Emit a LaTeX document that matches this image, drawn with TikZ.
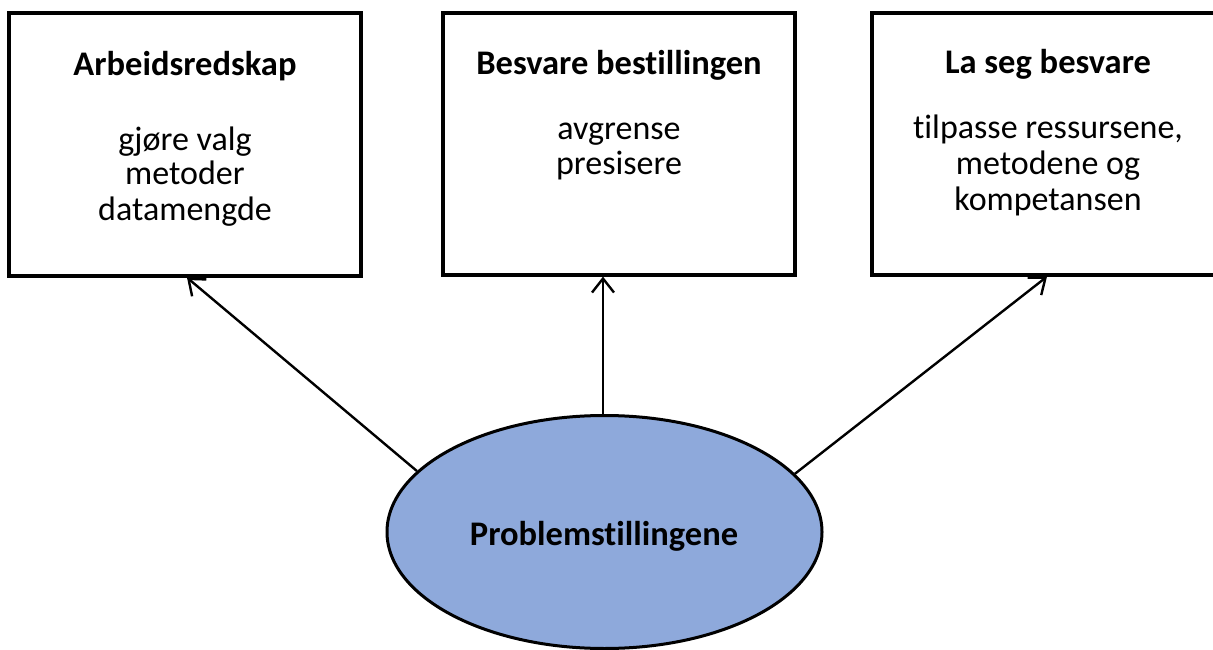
\documentclass[tikz,border=0pt]{standalone}
\usepackage{fontspec}
\setmainfont{Carlito}[Ligatures=NoCommon]
\usetikzlibrary{shapes.geometric,arrows.meta}
\definecolor{ellfill}{RGB}{142,169,219}
\tikzset{
  panel/.style={draw=black, line width=3.2pt, minimum width=352pt, minimum height=263pt, inner sep=0pt},
  hub/.style={ellipse, draw=black, line width=3pt, fill=ellfill, minimum width=435pt, minimum height=233pt, inner sep=0pt},
  ttl/.style={anchor=base, inner sep=0pt, font=\fontsize{34.5}{36}\selectfont\bfseries},
  body/.style={anchor=base, inner sep=0pt, font=\fontsize{34}{36}\selectfont},
  link/.style={line width=2.4pt, -{Straight Barb[length=14pt,width=22pt]}}
}
\begin{document}
\begin{tikzpicture}[x=1pt,y=-1pt]
\useasboundingbox (0,0) rectangle (1213,650);
\clip (0,0) rectangle (1213,650);

% three boxes
\node[panel] (lbox) at (185,144.5) {};
\node[panel, minimum height=262pt] (mbox) at (619,144) {};
\node[panel, minimum height=262pt] (rbox) at (1048,144) {};

% box texts
\node[ttl] (lt) at (185,76) {Arbeidsredskap};
\node[body] (lb1) at (185,150) {gjøre valg};
\node[body] (lb2) at (185,185) {metoder};
\node[body] (lb3) at (185,220) {datamengde};

\node[ttl] (mt) at (619,75) {Besvare bestillingen};
\node[body] (mb1) at (619,140) {avgrense};
\node[body] (mb2) at (619,175) {presisere};

\node[ttl] (rt) at (1048,74) {La seg besvare};
\node[body] (rb1) at (1048,139) {tilpasse ressursene,};
\node[body] (rb2) at (1048,175) {metodene og};
\node[body] (rb3) at (1048,210) {kompetansen};

% central ellipse
\node[hub] (hub) at (604.5,532) {};
\node[ttl] (ht) at (604,545) {Problemstillingene};

% arrow tips on the box bottoms
\coordinate (tipL) at ([xshift=2pt]lbox.south);
\coordinate (tipM) at ([xshift=-16pt]mbox.south);
\coordinate (tipR) at ([xshift=-1pt]rbox.south);

% connectors from the ellipse up to the boxes
\draw[link] (hub.162) -- (tipL);
\draw[link] (hub.north -| tipM) -- (tipM);
\draw[link] (hub.17.5) -- (tipR);
\end{tikzpicture}
\end{document}
